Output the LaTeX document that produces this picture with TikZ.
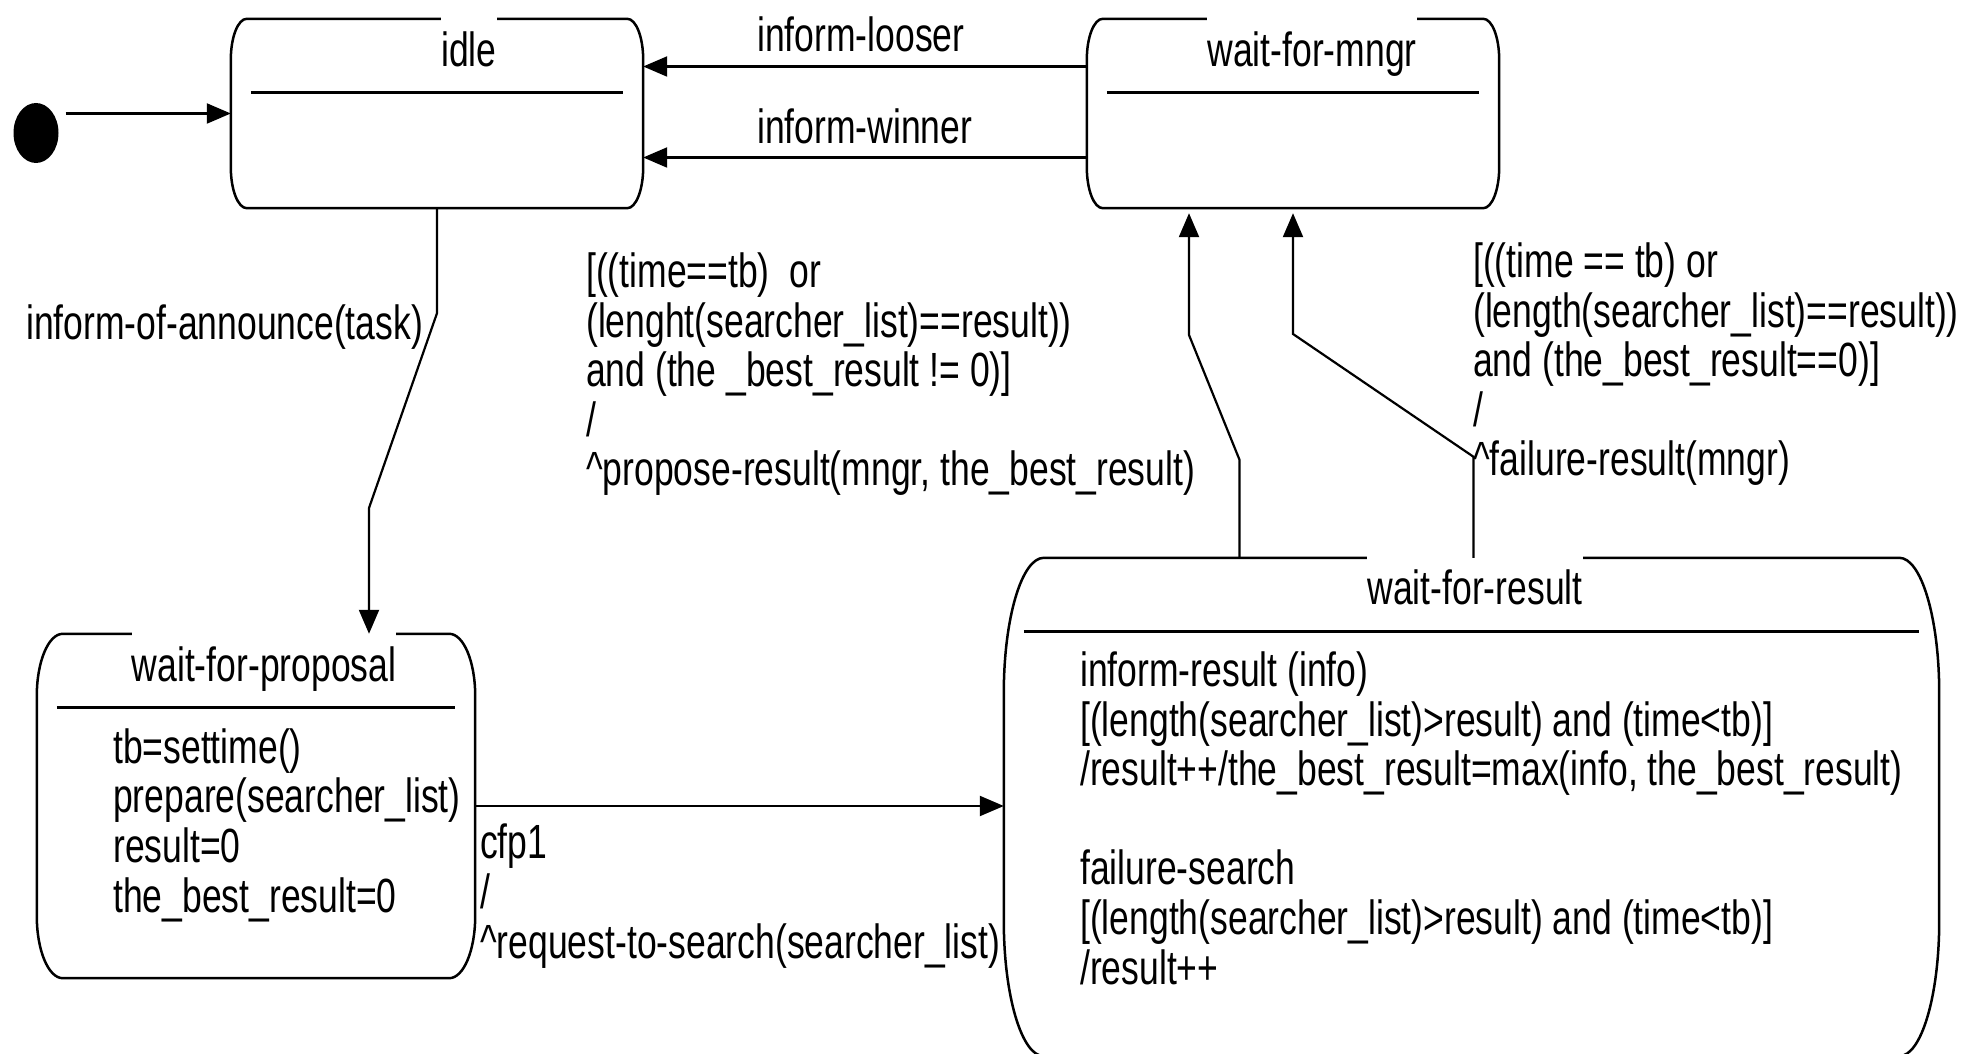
\documentclass[tikz,border=0pt]{standalone}
\usepackage{fontspec}
\setmainfont[FakeStretch=0.74]{Liberation Sans}
\usetikzlibrary{arrows.meta,shapes.geometric}

\newcommand{\stateoutline}[3]{%
  \draw[stateline] ([xshift=#2pt]#1.north west) -- ([xshift=-#2pt]#1.north east)
    arc[start angle=90, end angle=0, x radius=#2pt, y radius=#3pt]
    -- ([yshift=#3pt]#1.south east)
    arc[start angle=0, end angle=-90, x radius=#2pt, y radius=#3pt]
    -- ([xshift=#2pt]#1.south west)
    arc[start angle=270, end angle=180, x radius=#2pt, y radius=#3pt]
    -- ([yshift=-#3pt]#1.north west)
    arc[start angle=180, end angle=90, x radius=#2pt, y radius=#3pt] -- cycle;
  \draw[divider] ([xshift=20pt,yshift=-74pt]#1.north west) -- ([xshift=-20pt,yshift=-74pt]#1.north east);
}

\begin{document}
\begin{tikzpicture}[x=1pt, y=1pt,
        every node/.style={font=\fontsize{48}{49.6}\selectfont},
        stateline/.style={line width=2.5pt},
        divider/.style={line width=3pt},
        gapline/.style={white, line width=7pt},
        trans/.style={line width=2.2pt, -{Triangle[length=24pt, width=20pt]}},
        statebox/.style={rectangle, inner sep=0pt},
        title/.style={inner sep=0pt, anchor=base},
        txt/.style={inner sep=0pt, anchor=base west, align=left}]
        \useasboundingbox[fill=white] (0,0) rectangle (1981,1053);
        \clip (0,0) rectangle (1981,1053);

        \begin{scope}
            \node[ellipse, fill=black, inner sep=0pt, minimum width=45pt, minimum height=60pt] (init) at (36,920) {};
            \node[statebox, minimum width=412pt, minimum height=189pt] (idle) at (437,939.5) {};
            \node[statebox, minimum width=412pt, minimum height=189pt] (wfm) at (1293,939.5) {};
            \node[statebox, minimum width=438pt, minimum height=344pt] (wfp) at (256,247) {};
            \node[statebox, minimum width=935pt, minimum height=498pt] (wfr) at (1471.5,246) {};
        \end{scope}

        \stateoutline{idle}{16}{41}
        \stateoutline{wfm}{16}{41}
        \stateoutline{wfp}{26}{62}
        \stateoutline{wfr}{40}{135}

        \node[title] (idlet) at (469,986) {idle};
        \node[title] (wfmt) at (1312,986) {wait-for-mngr};
        \node[title] (wfpt) at (264,371) {wait-for-proposal};
        \node[title] (wfrt) at (1475,448) {wait-for-result};

        \draw[gapline] (idlet.west |- idle.north) -- (idlet.east |- idle.north);
        \draw[gapline] (wfmt.west |- wfm.north) -- (wfmt.east |- wfm.north);
        \draw[gapline] (wfpt.west |- wfp.north) -- (wfpt.east |- wfp.north);
        \draw[gapline] (wfrt.west |- wfr.north) -- (wfrt.east |- wfr.north);

        \node[txt] (wfpdo) at (113,141) {tb=settime()\\prepare(searcher\_list)\\result=0\\the\_best\_result=0};
        \node[txt] (wfrdo) at (1080,69) {inform-result (info)\\{}[(length(searcher\_list)>result) and (time<tb)]\\/result++/the\_best\_result=max(info, the\_best\_result)\\~\\failure-search\\{}[(length(searcher\_list)>result) and (time<tb)]\\/result++};

        \draw[trans, shorten <=7pt] (init.east |- idle.west) -- (idle.west);
        \draw[trans] (idle.south) -- ++(0,-105) -- (369,545) -- ([xshift=113pt]wfp.north);
        \draw[trans] (wfp.east) -- (wfp.east -| wfr.west);
        \draw[trans] ([yshift=47pt]wfm.west) -- ([yshift=47pt]idle.east);
        \draw[trans] ([yshift=-44pt]wfm.west) -- ([yshift=-44pt]idle.east);
        \draw[trans, shorten >=5pt] ([xshift=-232pt]wfr.north) -- ++(0,98) -- (1189,718) -- ([xshift=-104pt]wfm.south);
        \draw[trans, shorten >=5pt] ([xshift=2pt]wfr.north) -- ++(0,101) -- (1293,719) -- (wfm.south);

        \node[txt] (looser) at (757,1001) {inform-looser};
        \node[txt] (winner) at (757,909) {inform-winner};
        \node[txt] (announce) at (26,713) {inform-of-announce(task)};
        \node[txt] (propose) at (586,567) {[((time==tb)\ \ or\\(lenght(searcher\_list)==result))\\and (the \_best\_result != 0)]\\/\\\textasciicircum propose-result(mngr, the\_best\_result)};
        \node[txt] (failure) at (1473,577) {[((time == tb) or\\(length(searcher\_list)==result))\\and (the\_best\_result==0)]\\/\\\textasciicircum failure-result(mngr)};
        \node[txt] (cfp) at (480,95) {cfp1\\/\\\textasciicircum request-to-search(searcher\_list)};
\end{tikzpicture}
\end{document}
